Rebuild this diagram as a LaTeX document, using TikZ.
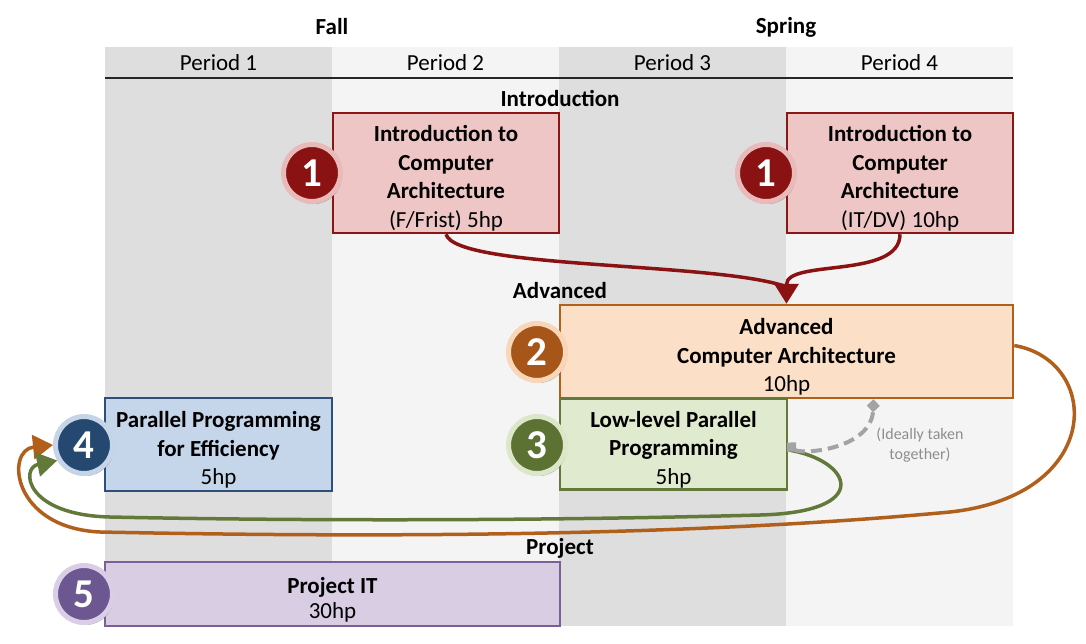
\documentclass[tikz,border=0pt]{standalone}
\usepackage{fontspec}
\setmainfont{Carlito}
\usetikzlibrary{arrows.meta,shadows,calc}
\definecolor{colA}{HTML}{DEDEDE}
\definecolor{colB}{HTML}{F4F4F4}
\definecolor{redF}{HTML}{EEC6C6}
\definecolor{redD}{HTML}{8C1515}
\definecolor{redC}{HTML}{8A1212}
\definecolor{redR}{HTML}{E8BABA}
\definecolor{orF}{HTML}{FBDFC6}
\definecolor{orD}{HTML}{B0601B}
\definecolor{orC}{HTML}{A7561A}
\definecolor{orR}{HTML}{F9D6B8}
\definecolor{grF}{HTML}{E0EACE}
\definecolor{grD}{HTML}{62793A}
\definecolor{grC}{HTML}{5C7233}
\definecolor{grR}{HTML}{DCE7CA}
\definecolor{blF}{HTML}{C6D6EA}
\definecolor{blD}{HTML}{2C4F7C}
\definecolor{blC}{HTML}{244870}
\definecolor{blR}{HTML}{C6D4E8}
\definecolor{puF}{HTML}{D9CDE3}
\definecolor{puD}{HTML}{7B5F96}
\definecolor{puC}{HTML}{6C5790}
\definecolor{puR}{HTML}{D9CEE5}
\definecolor{dashG}{HTML}{A3A3A3}
\definecolor{noteG}{HTML}{8E8E8E}
\newcommand\topstrut{\rule{0pt}{27pt}}
\tikzset{
  txt/.style={font=\fontsize{23}{28.5}\selectfont, align=center, inner sep=0pt},
  hdr/.style={font=\fontsize{23}{28.5}\selectfont\bfseries, align=center, inner sep=0pt},
  course/.style={draw=#1D, fill=#1F, line width=2.5pt, rectangle, inner sep=0pt,
     font=\fontsize{23}{28.5}\selectfont, align=center},
  num/.style={circle, fill=#1C, draw=#1R, line width=5pt, minimum size=57pt, inner sep=0pt,
     text=white, font=\fontsize{41}{41}\selectfont\bfseries,
     drop shadow={shadow xshift=1.5pt, shadow yshift=-2.5pt, opacity=0.3, fill=black, draw=none}},
  conn/.style={line width=3.5pt, draw=#1, -{Triangle[length=20pt,width=24pt,fill=#1]}},
  plainconn/.style={line width=3.5pt, draw=#1},
  link/.style={line width=4pt, draw=dashG, dash pattern=on 11pt off 6pt,
     {Diamond[length=13pt,width=13pt,fill=dashG,sep=-2pt]}-{Diamond[length=13pt,width=13pt,fill=dashG]}},
}
\begin{document}
\begin{tikzpicture}[x=1pt,y=-1pt]
\useasboundingbox (0,0) rectangle (1086,643);
\fill[white] (0,0) rectangle (1086,643);
% columns
\fill[colA] (105,47) rectangle (332,626);
\fill[colB] (332,47) rectangle (559,626);
\fill[colA] (559,47) rectangle (786,626);
\fill[colB] (786,47) rectangle (1013,626);
\draw[line width=1.2pt, black!85] (105,78) -- (1013,78);
\node[txt] (p1) at (218.5,63) {Period 1};
\node[txt] (p2) at (445.5,63) {Period 2};
\node[txt] (p3) at (672.5,63) {Period 3};
\node[txt] (p4) at (899.5,63) {Period 4};
\node[hdr] (fall) at (332,27) {Fall};
\node[hdr] (spring) at (786,27) {Spring};
\node[hdr] (sIntro) at (560,98) {Introduction};
\node[hdr] (sAdv) at (560,291) {Advanced};
\node[hdr] (sProj) at (560,548) {Project};
% course boxes
\node[course=red, minimum width=226pt, minimum height=120pt] (intro1) at (446,173)
  {\topstrut\textbf{Introduction to}\\\textbf{Computer}\\\textbf{Architecture}\\(F/Frist) 5hp};
\node[course=red, minimum width=226pt, minimum height=120pt] (intro2) at (900,173)
  {\topstrut\textbf{Introduction to}\\\textbf{Computer}\\\textbf{Architecture}\\(IT/DV) 10hp};
\node[course=or, minimum width=453pt, minimum height=93pt] (adv) at (786.5,351.5)
  {\topstrut\textbf{Advanced}\\\textbf{Computer Architecture}\\10hp};
\node[course=gr, minimum width=227pt, minimum height=91pt] (low) at (673.5,444)
  {\topstrut\textbf{Low-level Parallel}\\\textbf{Programming}\\5hp};
\node[course=bl, minimum width=227pt, minimum height=93pt] (ppe) at (218.5,444.5)
  {\topstrut\textbf{Parallel Programming}\\\textbf{for Efficiency}\\5hp};
\node[course=pu, minimum width=455pt, minimum height=64pt] (proj) at (332.5,594)
  {\topstrut\textbf{Project IT}\\[-3.5pt]30hp};
% number circles
\node[num=red] (c1a) at (312,173) {1};
\node[num=red] (c1b) at (766,173) {1};
\node[num=or] (c2) at (537,352) {2};
\node[num=gr] (c3) at (537,445) {3};
\node[num=bl] (c4) at (84,445) {4};
\node[num=pu] (c5) at (84,594) {5};
% connectors
\draw[plainconn=redC] (intro1.south) .. controls +(10,35) and +(-70,-25) .. ([yshift=17pt]adv.north);
\draw[conn=redC] (intro2.south) .. controls +(0,45) and +(0,-45) .. (adv.north);
\draw[conn=orD] ([yshift=6pt]adv.east) .. controls +(87,15) and (1105,495) .. (950,512)
   .. controls (650,540) and (300,536) .. (100,532)
   .. controls (12,528) and (5,450) .. (c4.west);
\draw[conn=grD] ([yshift=-6pt]low.east) .. controls +(63,10) and (875,512) .. (760,515)
   .. controls (500,522) and (250,520) .. (110,517)
   .. controls (25,515) and (20,468) .. (c4.210);
\coordinate (dashEnd) at ([xshift=87pt]adv.south);
\draw[link] (low.east) .. controls (800,455) and (872,450) .. (dashEnd);
\node[font=\fontsize{16}{20}\selectfont, text=noteG, align=center, inner sep=0pt] (note) at (920,445)
  {(Ideally taken\\together)};
\end{tikzpicture}
\end{document}
